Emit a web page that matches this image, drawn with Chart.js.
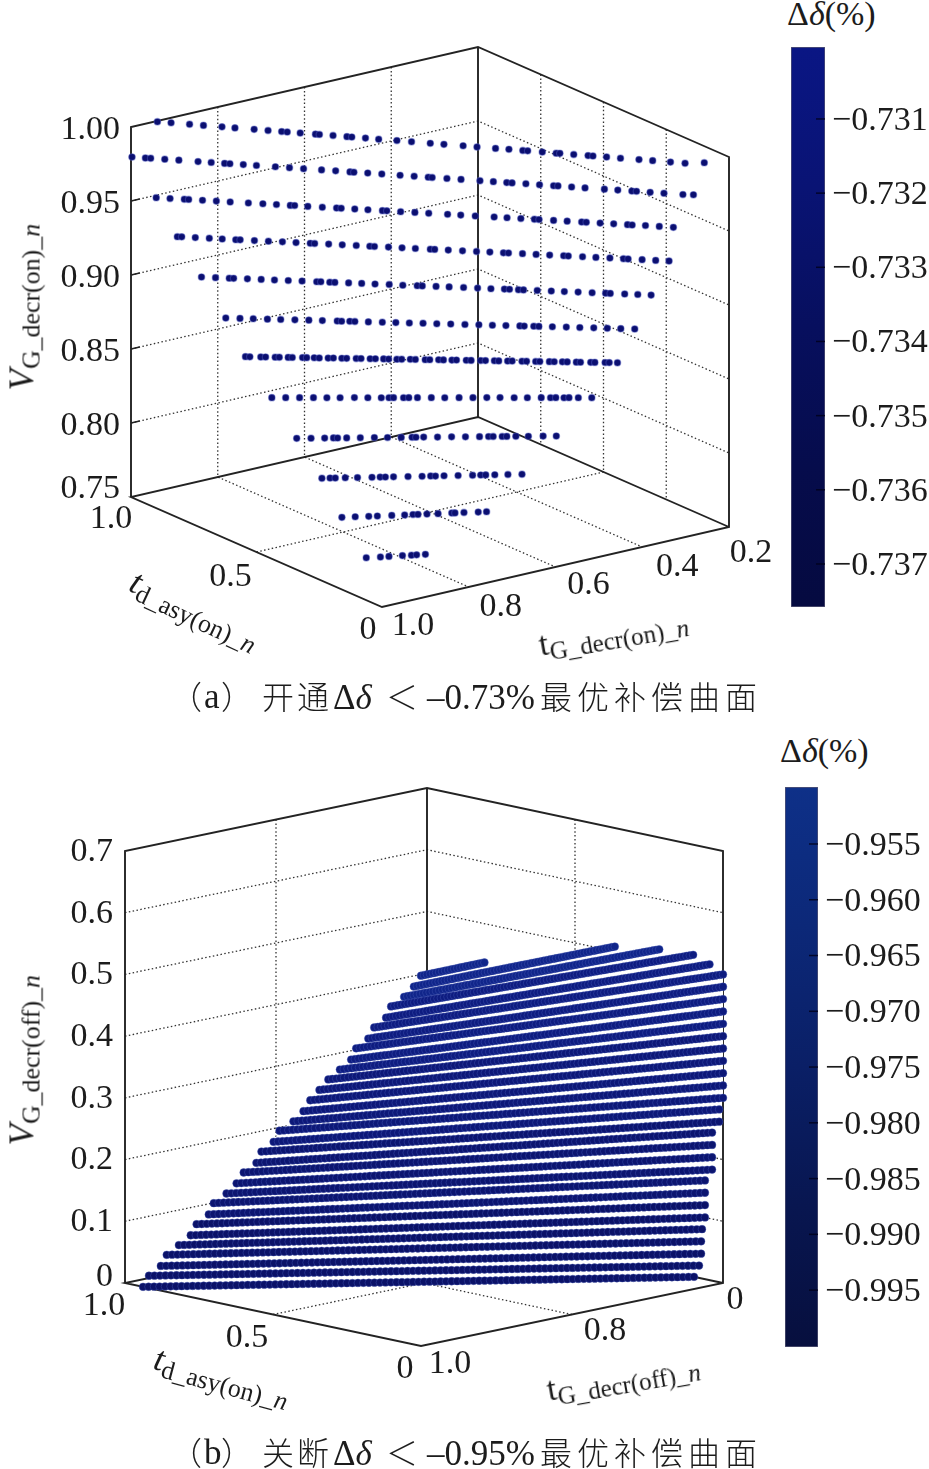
<!DOCTYPE html>
<html><head><meta charset="utf-8">
<script src="https://cdn.jsdelivr.net/npm/chart.js@4"></script>
<style>
html,body{margin:0;padding:0;background:#fff;width:929px;height:1469px;overflow:hidden}
canvas{position:absolute}
.t{position:absolute;font-family:"Liberation Serif",serif;color:#1c1c1c;white-space:nowrap;line-height:1;transform-origin:left center}
.t sub{font-size:.74em;vertical-align:baseline;position:relative;top:.24em}
.c{position:absolute;color:#1c1c1c;white-space:nowrap;line-height:1}
.cjk{font-family:"Noto Sans CJK SC",sans-serif;font-weight:300;font-size:32px}
.ser{font-family:"Liberation Serif",serif;font-size:35px}
</style></head><body>
<canvas id="pa" width="780" height="670" style="left:0px;top:0px"></canvas>
<canvas id="pb" width="780" height="690" style="left:0px;top:730px"></canvas>
<canvas id="ca" width="138" height="560" style="left:791px;top:47px"></canvas>
<canvas id="cb" width="144" height="560" style="left:785px;top:787px"></canvas>

<div class="t" style="left:787px;top:-3px;font-size:34px">Δ<i>δ</i>(%)</div>
<div class="t" style="left:780px;top:734px;font-size:34px">Δ<i>δ</i>(%)</div>

<div class="t" style="left:22px;top:373px;font-size:35px;transform:rotate(-90deg)"><i>V</i><sub>G_decr(on)_<i>n</i></sub></div>
<div class="t" style="left:132px;top:562px;font-size:35px;transform:rotate(25deg)"><i>t</i><sub>d_asy(on)_<i>n</i></sub></div>
<div class="t" style="left:539px;top:628px;font-size:34px;transform:rotate(-10deg)">t<sub>G_decr(on)_<i>n</i></sub></div>

<div class="t" style="left:22px;top:1128px;font-size:35px;transform:rotate(-90deg)"><i>V</i><sub>G_decr(off)_<i>n</i></sub></div>
<div class="t" style="left:155px;top:1340px;font-size:35px;transform:rotate(15deg)"><i>t</i><sub>d_asy(on)_<i>n</i></sub></div>
<div class="t" style="left:547px;top:1373px;font-size:34px;transform:rotate(-10deg)">t<sub>G_decr(off)_<i>n</i></sub></div>

<div class="c cjk" style="left:170px;top:679px">（</div><div class="c ser" style="left:204px;top:679px">a</div><div class="c cjk" style="left:221px;top:679px">）</div>
<div class="c cjk" style="left:262px;top:679px;letter-spacing:3px">开通</div>
<div class="c ser" style="left:333px;top:680px">Δ<i>δ</i></div>
<div class="c cjk" style="left:386px;top:679px">＜</div>
<div class="c ser" style="left:427px;top:680px">–0.73%</div>
<div class="c cjk" style="left:540px;top:679px;letter-spacing:5px">最优补偿曲面</div>

<div class="c cjk" style="left:170px;top:1435px">（</div><div class="c ser" style="left:204px;top:1435px">b</div><div class="c cjk" style="left:221px;top:1435px">）</div>
<div class="c cjk" style="left:262px;top:1435px;letter-spacing:3px">关断</div>
<div class="c ser" style="left:333px;top:1436px">Δ<i>δ</i></div>
<div class="c cjk" style="left:386px;top:1435px">＜</div>
<div class="c ser" style="left:427px;top:1436px">–0.95%</div>
<div class="c cjk" style="left:540px;top:1435px;letter-spacing:5px">最优补偿曲面</div>

<script>
// ---------- Panel (a): each point's t and td; each row is assumed to sit at one V (an estimate, a 2D picture cannot fix depth) ----------
const vTicksA=[0.75,0.80,0.85,0.90,0.95,1.00];
const vLabelsA=['0.75','0.80','0.85','0.90','0.95','1.00'];
const tdTicksA=[1.0,0.5,0];
const tdLabelsA=['1.0','0.5','0'];
const tTicksA=[1.0,0.8,0.6,0.4,0.2];
const tLabelsA=['1.0','0.8','0.6','0.4','0.2'];
const rowVA=[1.00,0.98,0.955,0.93,0.905,0.88,0.855,0.83,0.805,0.78,0.765,0.75];
const rowTA=[
[.942,.925,.902,.885,.862,.846,.822,.805,.788,.781,.765,.746,.741,.724,.707,.701,.684,.668,.645,.627,.604,.587,.563,.546,.523,.506,.489,.483,.465,.448,.443,.426,.408,.402,.385,.368,.345,.328,.306,.288,.257],
[1.000,.983,.976,.958,.940,.916,.899,.882,.875,.858,.841,.817,.799,.781,.758,.740,.722,.717,.699,.681,.658,.640,.622,.617,.598,.580,.556,.539,.522,.515,.497,.480,.462,.456,.439,.422,.397,.380,.362,.356,.339,.321,.297,.282],
[.976,.958,.939,.933,.915,.897,.879,.855,.836,.818,.800,.794,.777,.758,.739,.733,.715,.698,.679,.673,.655,.636,.618,.593,.576,.557,.532,.515,.497,.479,.473,.454,.436,.417,.411,.393,.375,.357,.351,.333,.315,.297],
[.951,.945,.927,.908,.891,.873,.867,.848,.829,.810,.792,.773,.767,.748,.730,.711,.693,.687,.668,.650,.632,.612,.606,.588,.569,.550,.532,.514,.507,.488,.470,.452,.433,.427,.408,.390,.371,.353,.347,.328,.310,.292],
[.926,.907,.888,.882,.863,.844,.826,.807,.788,.768,.762,.750,.743,.724,.706,.688,.668,.650,.630,.623,.604,.586,.566,.547,.529,.510,.503,.491,.484,.465,.446,.428,.409,.390,.371,.365,.345,.327,.309],
[.903,.883,.864,.844,.825,.805,.785,.766,.745,.739,.727,.720,.701,.681,.662,.643,.623,.604,.584,.564,.544,.525,.506,.486,.480,.466,.459,.440,.420,.401,.381,.362,.343,.323],
[.879,.873,.857,.850,.836,.830,.817,.811,.796,.790,.779,.772,.759,.751,.739,.732,.718,.711,.698,.690,.678,.671,.659,.652,.639,.632,.618,.611,.598,.591,.579,.572,.558,.551,.537,.530,.517,.511,.498,.491,.477,.470,.457,.451,.437,.430,.418,.411,.398,.392,.377,.371,.356,.350,.338],
[.853,.832,.811,.790,.770,.750,.728,.708,.688,.676,.669,.654,.646,.633,.612,.592,.570,.549,.528,.508,.487,.467,.446,.432,.424,.412,.404,.390,.370],
[.828,.806,.785,.771,.765,.751,.730,.708,.688,.667,.650,.644,.632,.611,.589,.568,.546,.532,.525,.511,.504,.490,.471,.448,.428],
[.800,.787,.779,.763,.744,.721,.708,.700,.687,.664,.642,.628,.621,.607,.585,.562,.549,.541,.527,.506,.484],
[.828,.806,.784,.770,.746,.725,.711,.703,.688,.670,.647,.642,.627,.604,.590],
[.854,.830,.815,.792,.777,.768,.753]];
const rowTdA=[
[.995,.970,.936,.910,.876,.852,.817,.791,.766,.756,.732,.704,.697,.672,.646,.637,.612,.587,.554,.527,.492,.467,.432,.406,.372,.348,.322,.313,.286,.260,.254,.228,.202,.193,.168,.142,.108,.083,.050,.023,.000],
[.996,.972,.963,.938,.913,.878,.855,.831,.822,.798,.775,.741,.716,.691,.659,.634,.608,.601,.577,.552,.519,.494,.469,.462,.436,.411,.377,.353,.329,.320,.296,.271,.246,.239,.214,.190,.156,.132,.107,.099,.074,.050,.016,.000],
[.941,.917,.893,.886,.862,.838,.814,.783,.758,.735,.711,.704,.681,.656,.632,.624,.601,.578,.553,.546,.522,.498,.474,.442,.419,.394,.362,.340,.316,.293,.285,.260,.237,.212,.204,.180,.157,.133,.125,.103,.079,.054],
[.900,.893,.870,.847,.825,.802,.795,.771,.748,.725,.702,.678,.671,.648,.625,.602,.579,.571,.548,.525,.503,.478,.471,.448,.424,.401,.379,.356,.348,.325,.302,.279,.256,.248,.224,.202,.179,.156,.148,.125,.102,.080],
[.847,.824,.802,.795,.773,.751,.729,.707,.685,.661,.655,.640,.632,.610,.589,.567,.545,.522,.499,.491,.469,.448,.425,.402,.380,.359,.351,.336,.328,.306,.283,.262,.240,.217,.196,.188,.165,.144,.122],
[.790,.768,.748,.726,.706,.684,.663,.642,.619,.612,.600,.592,.571,.550,.529,.508,.488,.466,.445,.423,.402,.381,.360,.339,.332,.318,.310,.289,.268,.247,.226,.205,.184,.163],
[.753,.746,.730,.723,.709,.703,.690,.684,.669,.663,.652,.644,.631,.624,.611,.604,.590,.583,.569,.562,.550,.542,.530,.523,.511,.503,.488,.482,.469,.462,.449,.443,.428,.421,.407,.400,.387,.380,.367,.361,.346,.340,.326,.320,.306,.299,.287,.280,.266,.260,.245,.239,.224,.218,.206],
[.693,.674,.655,.636,.617,.599,.580,.561,.542,.532,.526,.512,.505,.493,.474,.455,.436,.417,.398,.380,.360,.342,.323,.310,.303,.291,.285,.272,.253],
[.637,.618,.600,.589,.583,.571,.553,.535,.517,.499,.485,.480,.470,.451,.433,.414,.396,.384,.378,.366,.360,.348,.331,.312,.294],
[.585,.575,.568,.556,.540,.522,.512,.505,.495,.477,.459,.449,.442,.432,.414,.396,.386,.380,.368,.352,.334],
[.457,.442,.426,.416,.400,.385,.376,.370,.360,.347,.332,.328,.318,.301,.292],
[.315,.300,.292,.278,.268,.263,.254]];
const barTicksA=[-0.731,-0.732,-0.733,-0.734,-0.735,-0.736,-0.737];
const barRangeA=[-0.73758,-0.73003];

// ---------- Panel (b) ----------
// NOTE: the beads here merge and cannot be read one by one. Each row's V,
// its td at both ends and where it stops. Column t values are an estimated even sweep, and the td
// of the points between the ends is INTERPOLATED from rowTdStartB / rowTdEndB with colWeightB.
const vTicksB=[0,0.1,0.2,0.3,0.4,0.5,0.6,0.7];
const vLabelsB=['0','0.1','0.2','0.3','0.4','0.5','0.6','0.7'];
const tdTicksB=[1.0,0.5,0];
const tdLabelsB=['1.0','0.5','0'];
const tTicksB=[1.0,0.8,0.6];
const tLabelsB=['1.0','0.8','0'];
const rowVB=[0,.02,.04,.06,.08,.10,.12,.14,.16,.18,.20,.22,.24,.26,.28,.30,.32,.34,.36,.38,.40,.42,.44,.46,.48,.50,.52,.54,.56,.58,.60];
const rowTdStartB=[.939,.919,.879,.859,.818,.778,.758,.717,.700,.657,.623,.599,.556,.539,.498,.478,.431,.397,.374,.343,.313,.274,.236,.219,.178,.158,.118,.101,.057,.024,0];
const rowTdEndB=[.098,.081,.074,.074,.071,.061,.061,.061,.061,.037,.037,.037,.037,.013,.013,0,0,0,0,0,0,0,0,0,0,0,0,0,0,0,0];
const rowLastColB=[100,100,100,100,100,100,100,100,100,100,100,100,100,100,100,100,100,100,100,100,100,100,100,100,100,100,96,91,80,65,21];
const colTB=[1,.996,.992,.988,.984,.98,.976,.972,.968,.964,.96,.956,.952,.948,.944,.94,.936,.932,.928,.924,.92,.916,.912,.908,.904,.9,.896,.892,.888,.884,.88,.876,.872,.868,.864,.86,.856,.852,.848,.844,.84,.836,.832,.828,.824,.82,.816,.812,.808,.804,.8,.796,.792,.788,.784,.78,.776,.772,.768,.764,.76,.756,.752,.748,.744,.74,.736,.732,.728,.724,.72,.716,.712,.708,.704,.7,.696,.692,.688,.684,.68,.676,.672,.668,.664,.66,.656,.652,.648,.644,.64,.636,.632,.628,.624,.62,.616,.612,.608,.604,.6];
const colWeightB=[1,.99,.98,.97,.96,.95,.94,.93,.92,.91,.9,.89,.88,.87,.86,.85,.84,.83,.82,.81,.8,.79,.78,.77,.76,.75,.74,.73,.72,.71,.7,.69,.68,.67,.66,.65,.64,.63,.62,.61,.6,.59,.58,.57,.56,.55,.54,.53,.52,.51,.5,.49,.48,.47,.46,.45,.44,.43,.42,.41,.4,.39,.38,.37,.36,.35,.34,.33,.32,.31,.3,.29,.28,.27,.26,.25,.24,.23,.22,.21,.2,.19,.18,.17,.16,.15,.14,.13,.12,.11,.1,.09,.08,.07,.06,.05,.04,.03,.02,.01,0];
const barTicksB=[-0.955,-0.960,-0.965,-0.970,-0.975,-0.980,-0.985,-0.990,-0.995];
const barRangeB=[-1.0001,-0.94989];

// ---------- Oblique projection of each 3D box onto the chart's x/y plane ----------
const boxA={front:[382,607],left:[131,497],right:[729,527],vTop:127,vBase:497,tHi:1,tLo:.2,tdHi:1,vLo:.75,vHi:1};
const boxB={front:[421,1346],left:[125,1283],right:[723,1283],vTop:851,vBase:1283,tHi:1,tLo:.6,tdHi:1,vLo:0,vHi:.7};
function project(b,t,td,v){
  const ft=(b.tHi-t)/(b.tHi-b.tLo), fd=td/b.tdHi, fv=(v-b.vLo)/(b.vHi-b.vLo);
  return {x:b.front[0]+ft*(b.right[0]-b.front[0])+fd*(b.left[0]-b.front[0]),
          y:b.front[1]+ft*(b.right[1]-b.front[1])+fd*(b.left[1]-b.front[1])+fv*(b.vTop-b.vBase)};
}
function seg(b,pts,solid,w){
  return {type:'line',data:pts.map(p=>project(b,p[0],p[1],p[2])),showLine:true,pointRadius:0,
    borderColor:solid?'#232323':'#333',borderWidth:w||(solid?1.9:1.3),borderDash:solid?[]:[1.5,2.4],order:solid?5:10,fill:false,tension:0};
}
function frame(b,tW,tdW,vW,tdFloor,tStub){
  const T=b.tHi,L=b.tLo,D=b.tdHi,l=b.vLo,h=b.vHi,o=[];
  vW.forEach(v=>{o.push(seg(b,[[T,D,v],[L,D,v],[L,0,v]],false));
    if(tStub) o.push(seg(b,[[T,D,v],[T-tStub,D,v]],true,1.6));});
  tW.forEach(t=>{o.push(seg(b,[[t,D,h],[t,D,l],[t,0,l]],false));});
  tdW.forEach(d=>{o.push(seg(b,[[L,d,h],[L,d,l]],false));});
  tdFloor.forEach(d=>{o.push(seg(b,[[T,d,l],[L,d,l]],false));});
  o.push(seg(b,[[T,D,l],[T,D,h],[L,D,h],[L,0,h],[L,0,l],[T,0,l],[T,D,l],[L,D,l],[L,0,l]],true));
  o.push(seg(b,[[L,D,h],[L,D,l]],true));
  return o;
}
function tickText(b,items){return {id:'tickText',afterDraw(ch){
  const c=ch.ctx,sx=ch.scales.x,sy=ch.scales.y;c.save();
  c.font='34px "Liberation Serif"';c.fillStyle='#1c1c1c';c.textBaseline='middle';
  items.forEach(it=>{const p=project(b,it.t,it.td,it.v);
    c.textAlign=it.a||'center';
    c.fillText(it.s,sx.getPixelForValue(p.x)+it.dx,sy.getPixelForValue(p.y)+it.dy);});
  c.restore();}};}
function panel(id,yMin,yMax,sets,plug){
  new Chart(document.getElementById(id),{type:'scatter',data:{datasets:sets},plugins:[plug],
   options:{responsive:false,animation:false,events:[],layout:{padding:0,autoPadding:false},
    plugins:{legend:{display:false},tooltip:{enabled:false}},
    scales:{x:{type:'linear',display:false,min:0,max:780},y:{type:'linear',display:false,reverse:true,min:yMin,max:yMax}}}});
}
function bar(id,range,ticks,stops,axisW){
  new Chart(document.getElementById(id),{type:'bar',
    data:{labels:['Δδ'],datasets:[{data:[range],borderWidth:1,borderColor:'rgba(30,30,70,.75)',borderSkipped:false,
      backgroundColor(ctx){const a=ctx.chart.chartArea;if(!a)return stops[0];
        const g=ctx.chart.ctx.createLinearGradient(0,a.top,0,a.bottom);stops.forEach((s,i)=>g.addColorStop(i/(stops.length-1),s));return g;},
      barPercentage:1,categoryPercentage:1}]},
    plugins:[{id:'innerTicks',afterDatasetsDraw(ch){const c=ch.ctx,s=ch.scales.y,r=ch.chartArea.right;c.save();c.strokeStyle='rgba(0,0,25,.8)';c.lineWidth=1.5;
      ticks.forEach(v=>{const y=s.getPixelForValue(v);c.beginPath();c.moveTo(r-9,y);c.lineTo(r,y);c.stroke();});c.restore();}}],
    options:{responsive:false,animation:false,events:[],layout:{padding:0},
     plugins:{legend:{display:false},tooltip:{enabled:false}},
     scales:{x:{display:false},
      y:{position:'right',min:range[0],max:range[1],grid:{display:false,drawTicks:false},border:{display:false},
         afterBuildTicks(ax){ax.ticks=ticks.map(v=>({value:v}));},
         afterFit(ax){ax.width=axisW;ax.paddingTop=0;ax.paddingBottom=0;},
         ticks:{padding:7,labelOffset:2,color:'#1c1c1c',font:{family:'"Liberation Serif"',size:34},autoSkip:false,
           callback:v=>'\u2212'+Math.abs(v).toFixed(3)}}}}});
}

// ---------- Assemble panel (a) ----------
const setsA=rowVA.map((v,i)=>({label:'V='+v,
  data:rowTA[i].map((t,j)=>project(boxA,t,rowTdA[i][j],v)),
  showLine:false,pointRadius:3.3,pointBackgroundColor:'#0b0f70',pointBorderColor:'rgba(80,90,190,.45)',pointBorderWidth:1.2,order:1}))
  .concat(frame(boxA,[.8,.6,.4],[.75,.5,.25],[.8,.85,.9,.95],[.5],.02));
const textA=[]
  .concat(vTicksA.map((v,i)=>({s:vLabelsA[i],t:1,td:1,v,dx:-11,dy:v===.75?-8:3,a:'right'})))
  .concat(tdTicksA.map((d,i)=>({s:tdLabelsA[i],t:1,td:d,v:.75,dx:[-20,-26,-14][i],dy:[22,25,23][i]})))
  .concat(tTicksA.map((t,i)=>({s:tLabelsA[i],t,td:0,v:.75,dx:[31,32,33,35,22][i],dy:[19,20,18,20,26][i]})));
panel('pa',0,670,setsA,tickText(boxA,textA));
bar('ca',barRangeA,barTicksA,['#0a1684','#091374','#070f5e','#060c4c','#050a40'],104);

// ---------- Assemble panel (b) ----------
const rowColorB=['#0b1268','#0c1570','#0d1878','#0e1c80','#10258a'];
const rowPtsB=rowVB.map((v,i)=>{const pts=[];
  for(let j=0;j<=rowLastColB[i];j++){
    pts.push(project(boxB,colTB[j],rowTdStartB[i]*colWeightB[j]+rowTdEndB[i]*(1-colWeightB[j]),v));}
  return pts;});
// white sheet behind the dense rows, so the box and grid stop at the surface's outline
const sheetB={type:'line',data:rowPtsB.map(p=>p[0]).concat(rowPtsB.map(p=>p[p.length-1]).reverse()),
  showLine:true,fill:'shape',backgroundColor:'#fff',borderWidth:0,pointRadius:0,order:3,tension:0};
const setsB=rowVB.map((v,i)=>({label:'V='+v,data:rowPtsB[i],showLine:false,pointRadius:3.9,
    pointBackgroundColor:rowColorB[Math.min(4,Math.floor(i/7))],pointBorderColor:'rgba(70,90,180,.45)',pointBorderWidth:.9,order:1}))
  .concat([sheetB]).concat(frame(boxB,[.8],[.5],[.1,.2,.3,.4,.5,.6],[.5],0));
const textB=[]
  .concat(vTicksB.map((v,i)=>({s:vLabelsB[i],t:1,td:1,v,dx:-12,dy:v===0?-6:1,a:'right'})))
  .concat(tdTicksB.map((d,i)=>({s:tdLabelsB[i],t:1,td:d,v:0,dx:[-21,-26,-16][i],dy:[23,24,23][i]})))
  .concat(tTicksB.map((t,i)=>({s:tLabelsB[i],t,td:0,v:0,dx:[29,33,12][i],dy:[18,17,17][i]})));
panel('pb',730,1420,setsB,tickText(boxB,textB));
bar('cb',barRangeB,barTicksB,['#0e3088','#0c2878','#0a1f66','#081650','#070f3e'],111);
</script>
</body></html>
